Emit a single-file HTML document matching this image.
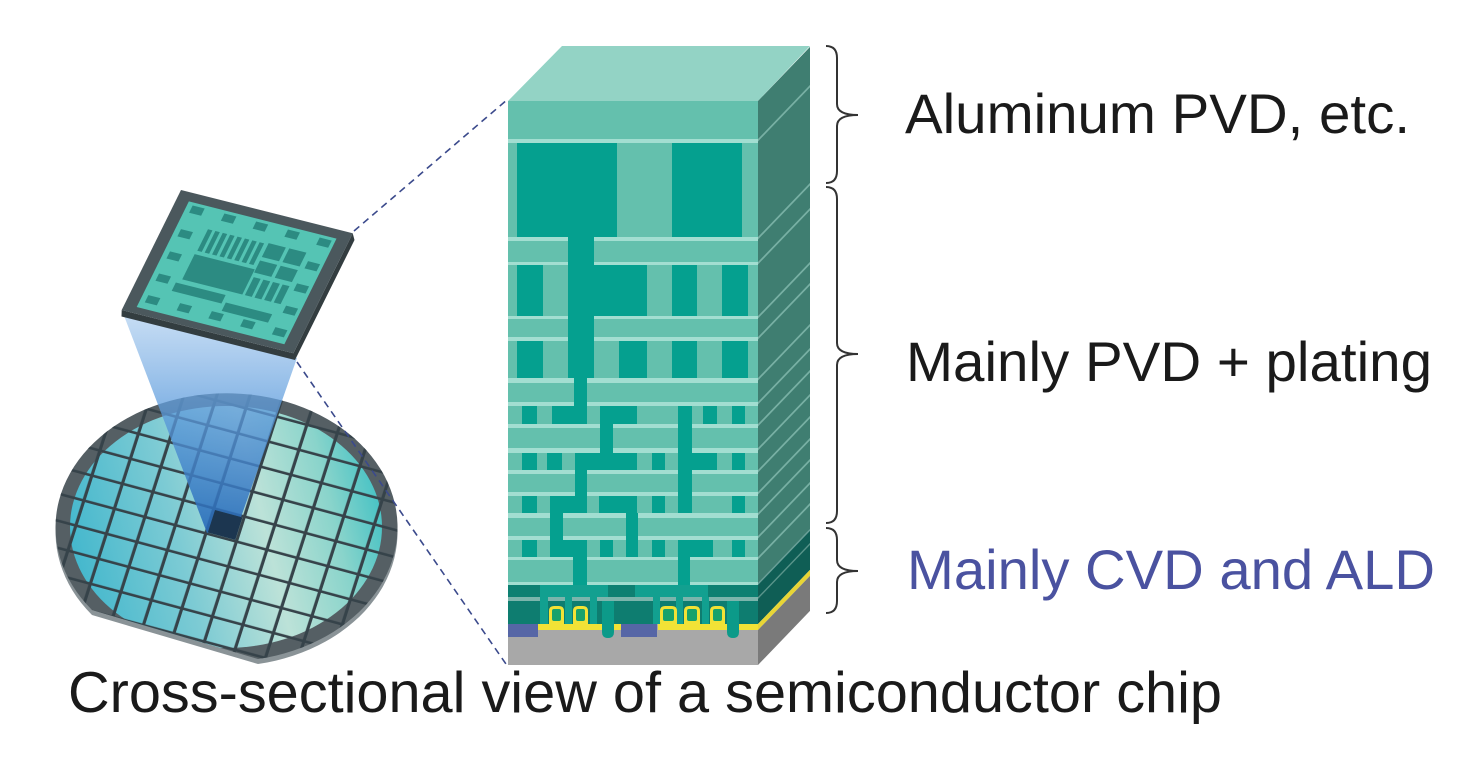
<!DOCTYPE html>
<html><head><meta charset="utf-8"><style>
html,body{margin:0;padding:0;background:#fff;}
svg{display:block;}
text{font-family:"Liberation Sans",Arial,sans-serif;}
</style></head><body>
<svg xmlns="http://www.w3.org/2000/svg" width="1474" height="758" viewBox="0 0 1474 758">
<defs>
 <linearGradient id="tg" gradientUnits="userSpaceOnUse" x1="60" y1="560" x2="395" y2="480">
  <stop offset="0" stop-color="#3db5cc"/>
  <stop offset="0.35" stop-color="#7dcbd4"/>
  <stop offset="0.6" stop-color="#bce2d8"/>
  <stop offset="0.8" stop-color="#8ad4cb"/>
  <stop offset="1" stop-color="#2fbcc2"/>
 </linearGradient>
 <linearGradient id="cone" x1="0" y1="0" x2="0" y2="1">
  <stop offset="0" stop-color="#a9cbee" stop-opacity="0.65"/>
  <stop offset="0.4" stop-color="#629fde" stop-opacity="0.75"/>
  <stop offset="1" stop-color="#2468b8" stop-opacity="0.88"/>
 </linearGradient>
 <pattern id="grid" patternUnits="userSpaceOnUse" width="10" height="10" patternTransform="matrix(3.05,0.82,-0.8,2.5,215,510)">
  <rect x="9" y="0" width="1" height="10" fill="#36434a"/>
  <rect x="0" y="9" width="10" height="1" fill="#36434a"/>
 </pattern>
 <clipPath id="wclip"><path d="M 258 659 A 171 134 0 1 0 92 610 Z"/></clipPath>
 <clipPath id="tclip"><ellipse cx="226" cy="527" rx="156" ry="121"/></clipPath>
</defs>

<!-- Wafer -->
<path d="M 258 664 A 171 134 0 1 0 92 615 Z" fill="#8a9397"/>
<path d="M 258 659 A 171 134 0 1 0 92 610 Z" fill="#555f64"/>
<g clip-path="url(#wclip)">
 <rect x="40" y="380" width="380" height="300" fill="url(#tg)" clip-path="url(#tclip)"/>
 <rect x="40" y="380" width="380" height="300" fill="url(#grid)"/>
</g>

<!-- Cone -->
<polygon points="123,313 297,358 240,520 207,533" fill="url(#cone)"/>
<g transform="matrix(3.05,0.82,-0.8,2.5,215,510)"><rect x="0" y="0" width="9" height="9" fill="#1c3650"/></g>

<!-- Chip -->
<polygon points="121.7,310 293.4,353.3 352.7,233.3 354.5,240 295,360 121.5,316.5" fill="#333d40"/>
<g transform="matrix(1.717,0.433,-0.593,1.2,181,190)">
 <rect width="100" height="100" fill="#4b585d"/>
 <rect x="7" y="7" width="86" height="88" fill="#55c4b4"/>
 <g fill="#2c8b82">
  <rect x="10" y="9.3" width="7" height="6"/>
  <rect x="28.5" y="9.3" width="7" height="6"/>
  <rect x="47" y="9.3" width="7" height="6"/>
  <rect x="65.5" y="9.3" width="7" height="6"/>
  <rect x="84" y="9.3" width="7" height="6"/>
  <rect x="10" y="84" width="7" height="6"/>
  <rect x="28.5" y="84" width="7" height="6"/>
  <rect x="47" y="84" width="7" height="6"/>
  <rect x="65.5" y="84" width="7" height="6"/>
  <rect x="84" y="84" width="7" height="6"/>
  <rect x="10" y="29" width="7" height="6"/>
  <rect x="10" y="47.5" width="7" height="6"/>
  <rect x="10" y="66" width="7" height="6"/>
  <rect x="84" y="29" width="7" height="6"/>
  <rect x="84" y="47.5" width="7" height="6"/>
  <rect x="84" y="66" width="7" height="6"/>
  <rect x="24" y="24" width="2.6" height="18"/>
  <rect x="28.3" y="24" width="2.6" height="18"/>
  <rect x="32.6" y="24" width="2.6" height="18"/>
  <rect x="36.9" y="24" width="2.6" height="18"/>
  <rect x="41.2" y="24" width="2.6" height="18"/>
  <rect x="45.5" y="24" width="2.6" height="18"/>
  <rect x="49.8" y="24" width="2.6" height="18"/>
  <rect x="54.1" y="24" width="2.6" height="18"/>
  <rect x="23.5" y="45" width="35" height="21"/>
  <rect x="59" y="23" width="10" height="11.5"/>
  <rect x="71" y="23" width="10" height="11.5"/>
  <rect x="59" y="37.5" width="10" height="10"/>
  <rect x="71" y="37.5" width="10" height="10"/>
  <rect x="60" y="51" width="4" height="15"/>
  <rect x="65.6" y="51" width="4" height="15"/>
  <rect x="71.2" y="51" width="4" height="15"/>
  <rect x="76.8" y="51" width="4" height="15"/>
  <rect x="21" y="69.5" width="29" height="7"/>
  <rect x="52" y="75" width="27" height="7"/>
 </g>
</g>

<!-- Block: top face -->
<polygon points="508,101 562,46 810,46 758,101" fill="#93d3c5"/>
<!-- Block: right face (skewed) -->
<g transform="matrix(1 -1.04 0 1 0 788.32)">
 <rect x="758" y="101" width="52" height="482" fill="#3f7e71"/>
 <g fill="#78b0a4">
  <rect x="758" y="139" width="52" height="2.5"/>
  <rect x="758" y="237" width="52" height="2.5"/>
  <rect x="758" y="262" width="52" height="2.5"/>
  <rect x="758" y="316" width="52" height="2.5"/>
  <rect x="758" y="337" width="52" height="2.5"/>
  <rect x="758" y="378" width="52" height="2.5"/>
  <rect x="758" y="402" width="52" height="2.5"/>
  <rect x="758" y="424" width="52" height="2.5"/>
  <rect x="758" y="448" width="52" height="2.5"/>
  <rect x="758" y="470" width="52" height="2.5"/>
  <rect x="758" y="492" width="52" height="2.5"/>
  <rect x="758" y="513" width="52" height="2.5"/>
  <rect x="758" y="536" width="52" height="2.5"/>
  <rect x="758" y="557" width="52" height="2.5"/>
 </g>
 <rect x="758" y="583" width="52" height="41" fill="#0f5e55"/>
 <rect x="758" y="583" width="52" height="2" fill="#6aa098"/>
 <rect x="758" y="597" width="52" height="2" fill="#5a958b"/>
 <rect x="758" y="624" width="52" height="6" fill="#e8d535"/>
 <rect x="758" y="630" width="52" height="35" fill="#7a7a7a"/>
</g>

<!-- Block: front face -->
<rect x="508" y="101" width="250" height="484" fill="#64c0ad"/>
<g fill="#a2ded1">
 <rect x="508" y="139" width="250" height="4"/>
 <rect x="508" y="237" width="250" height="4"/>
 <rect x="508" y="262" width="250" height="3"/>
 <rect x="508" y="316" width="250" height="3"/>
 <rect x="508" y="337" width="250" height="4"/>
 <rect x="508" y="378" width="250" height="5"/>
 <rect x="508" y="402" width="250" height="4"/>
 <rect x="508" y="424" width="250" height="4"/>
 <rect x="508" y="448" width="250" height="5"/>
 <rect x="508" y="470" width="250" height="4"/>
 <rect x="508" y="492" width="250" height="4"/>
 <rect x="508" y="513" width="250" height="5"/>
 <rect x="508" y="536" width="250" height="4"/>
 <rect x="508" y="557" width="250" height="3"/>
 <rect x="508" y="582" width="250" height="3"/>
</g>
<g fill="#05a08f">
 <rect x="517" y="143" width="100" height="94"/>
 <rect x="672" y="143" width="70" height="94"/>
 <rect x="568" y="237" width="26" height="141"/>
 <rect x="517" y="265" width="26" height="51"/>
 <rect x="594" y="265" width="53" height="51"/>
 <rect x="672" y="265" width="25" height="51"/>
 <rect x="722" y="265" width="26" height="51"/>
 <rect x="517" y="341" width="26" height="37"/>
 <rect x="619" y="341" width="28" height="37"/>
 <rect x="672" y="341" width="25" height="37"/>
 <rect x="722" y="341" width="26" height="37"/>
 <rect x="574" y="378" width="13" height="46"/>
 <rect x="522" y="406" width="15" height="18"/>
 <rect x="552" y="406" width="35" height="18"/>
 <rect x="600" y="406" width="37" height="18"/>
 <rect x="703" y="406" width="14" height="18"/>
 <rect x="732" y="406" width="13" height="18"/>
 <rect x="678" y="406" width="14" height="107"/>
 <rect x="600" y="424" width="13" height="29"/>
 <rect x="522" y="453" width="15" height="17"/>
 <rect x="547" y="453" width="15" height="17"/>
 <rect x="575" y="453" width="62" height="17"/>
 <rect x="652" y="453" width="13" height="17"/>
 <rect x="678" y="453" width="39" height="17"/>
 <rect x="732" y="453" width="13" height="17"/>
 <rect x="575" y="470" width="12" height="26"/>
 <rect x="522" y="496" width="15" height="17"/>
 <rect x="550" y="496" width="37" height="17"/>
 <rect x="599" y="496" width="38" height="17"/>
 <rect x="652" y="496" width="13" height="17"/>
 <rect x="732" y="496" width="13" height="17"/>
 <rect x="550" y="513" width="13" height="27"/>
 <rect x="626" y="513" width="12" height="27"/>
 <rect x="522" y="540" width="15" height="17"/>
 <rect x="550" y="540" width="37" height="17"/>
 <rect x="600" y="540" width="13" height="17"/>
 <rect x="626" y="540" width="12" height="17"/>
 <rect x="652" y="540" width="13" height="17"/>
 <rect x="678" y="540" width="35" height="17"/>
 <rect x="732" y="540" width="13" height="17"/>
 <rect x="573" y="557" width="14" height="28"/>
 <rect x="678" y="557" width="12" height="28"/>
</g>
<!-- local interconnect / device level -->
<rect x="508" y="585" width="250" height="12" fill="#0d8072"/>
<rect x="540" y="585" width="68" height="12" fill="#12a090"/>
<rect x="635" y="585" width="73" height="12" fill="#12a090"/>
<rect x="508" y="597" width="250" height="4" fill="#7bb5ac"/>
<rect x="508" y="601" width="250" height="23" fill="#0e7d70"/>
<g fill="#12a090">
 <rect x="540" y="597" width="8" height="27"/>
 <rect x="565" y="597" width="7" height="27"/>
 <rect x="590" y="597" width="7" height="27"/>
 <rect x="653" y="597" width="7" height="27"/>
 <rect x="676" y="597" width="7" height="27"/>
 <rect x="702" y="597" width="7" height="27"/>
</g>
<!-- gates -->
<g fill="#f2e236">
 <path d="M549 624 V611 Q549 606 554 606 H559 Q564 606 564 611 V624 Z"/>
 <path d="M573 624 V611 Q573 606 578 606 H583 Q588 606 588 611 V624 Z"/>
 <path d="M660 624 V611 Q660 606 665 606 H672 Q677 606 677 611 V624 Z"/>
 <path d="M684 624 V611 Q684 606 689 606 H695 Q700 606 700 611 V624 Z"/>
 <path d="M710 624 V611 Q710 606 715 606 H720 Q725 606 725 611 V624 Z"/>
</g>
<g fill="#17a26c">
 <rect x="552" y="609" width="9" height="12" rx="2"/>
 <rect x="576" y="609" width="9" height="12" rx="2"/>
 <rect x="663" y="609" width="11" height="12" rx="2"/>
 <rect x="687" y="609" width="10" height="12" rx="2"/>
 <rect x="713" y="609" width="9" height="12" rx="2"/>
</g>
<!-- substrate -->
<rect x="508" y="624" width="250" height="41" fill="#a8a8a8"/>
<g fill="#f2e236">
 <rect x="538" y="624" width="64" height="6"/>
 <rect x="613" y="624" width="8" height="6"/>
 <rect x="658" y="624" width="69" height="6"/>
 <rect x="738" y="624" width="20" height="6"/>
</g>
<rect x="508" y="624" width="30" height="13" fill="#5666a6"/>
<rect x="621" y="624" width="36" height="13" fill="#5666a6"/>
<path d="M602 601 V632 Q602 638 608 638 Q614 638 614 632 V601 Z" fill="#0c9a89"/>
<path d="M727 601 V632 Q727 638 733 638 Q739 638 739 632 V601 Z" fill="#0c9a89"/>

<!-- Dashed connector lines -->
<line x1="354" y1="231" x2="508" y2="99" stroke="#3b4a8c" stroke-width="1.6" stroke-dasharray="7 5"/>
<line x1="297" y1="362" x2="506" y2="664" stroke="#3b4a8c" stroke-width="1.6" stroke-dasharray="7 5"/>

<!-- Braces -->
<g fill="none" stroke="#333" stroke-width="2">
 <path d="M826 46 Q837 46 837 58 L837 104 Q837 115 858 115 Q837 115 837 126 L837 171 Q837 183 826 183"/>
 <path d="M826 187 Q837 187 837 199 L837 343 Q837 354 858 354 Q837 354 837 365 L837 511 Q837 523 826 523"/>
 <path d="M826 528 Q837 528 837 540 L837 560 Q837 571 858 571 Q837 571 837 582 L837 601 Q837 613 826 613"/>
</g>

<!-- Labels -->
<text x="905" y="133" font-size="56" fill="#1a1a1a" textLength="505" lengthAdjust="spacingAndGlyphs">Aluminum PVD, etc.</text>
<text x="906" y="381" font-size="56" fill="#1a1a1a" textLength="526" lengthAdjust="spacingAndGlyphs">Mainly PVD + plating</text>
<text x="907" y="589" font-size="56" fill="#4a52a0" textLength="528" lengthAdjust="spacingAndGlyphs">Mainly CVD and ALD</text>
<text x="68" y="712" font-size="57.5" fill="#1a1a1a" textLength="1154" lengthAdjust="spacingAndGlyphs">Cross-sectional view of a semiconductor chip</text>
</svg>
</body></html>
